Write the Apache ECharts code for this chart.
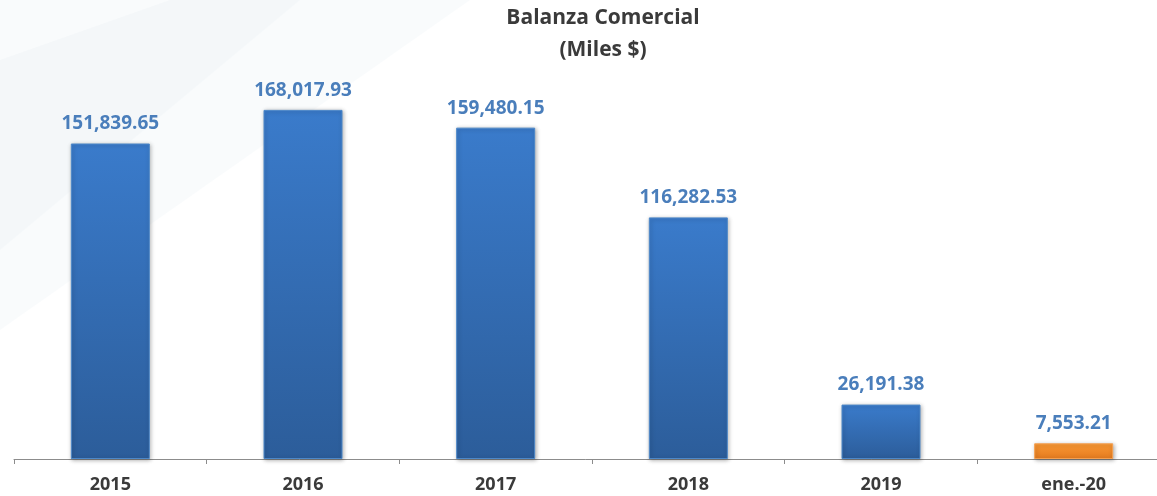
<!DOCTYPE html>
<html>
<head>
<meta charset="utf-8">
<script src="https://cdn.jsdelivr.net/npm/echarts@6/dist/echarts.min.js"></script>
<style>
	html,body{margin:0;padding:0;background:#fff;}
	#chart{width:1157px;height:496px;}
</style>
</head>
<body>
<div id="chart"></div>
<script>
var categories = ['2015', '2016', '2017', '2018', '2019', 'ene.-20'];
var values = [151839.65, 168017.93, 159480.15, 116282.53, 26191.38, 7553.21];
var orangeIndex = 5 ;

var blueBar = new echarts.graphic.LinearGradient(0, 0, 0, 1, [
	{offset: 0, color: '#3a7bcb'},
	{offset: 1, color: '#2c5d9a'}
]);
var orangeBar = new echarts.graphic.LinearGradient(0, 0, 0, 1, [
	{offset: 0, color: '#f99834'},
	{offset: 1, color: '#e57b1f'}
]);

function fmt(v){
	return v.toLocaleString('en-US', {minimumFractionDigits: 2, maximumFractionDigits: 2});
}

var barData = values.map(function(v, i){
	return {
		value: v,
		itemStyle: {
			color: i === orangeIndex ? orangeBar : blueBar,
			borderColor: i === orangeIndex ? '#f6a050' : '#4d88c9'
		}
	};
});

var chart = echarts.init(document.getElementById('chart'), null, {renderer: 'canvas'});
chart.setOption({
	animation: false,
	backgroundColor: '#ffffff',
	graphic: [
		{type: 'polygon', z: -10, silent: true,
			shape: {points: [[0,0],[470,0],[0,330]]},
			style: {fill: 'rgba(232,240,244,0.25)'}},
		{type: 'polygon', z: -10, silent: true,
			shape: {points: [[0,60],[170,0],[300,0],[0,250]]},
			style: {fill: 'rgba(225,236,242,0.2)'}},
		{type: 'text', x: 603, y: 18,
			style: {text: 'Balanza Comercial', textAlign: 'center', textVerticalAlign: 'middle',
				font: 'bold 21px "Open Sans"', fill: '#3a3a3a'}},
		{type: 'text', x: 603, y: 50,
			style: {text: '(Miles $)', textAlign: 'center', textVerticalAlign: 'middle',
				font: 'bold 21px "Open Sans"', fill: '#3a3a3a'}}
	],
	grid: {left: 14, top: 85, bottom: 37, right: -13, outerBoundsMode: 'none', containLabel: false},
	xAxis: {
		type: 'category',
		data: categories,
		axisLine: {lineStyle: {color: '#8c8c8c', width: 1}},
		axisTick: {show: true, length: 5, lineStyle: {color: '#8c8c8c'}},
		axisLabel: {
			margin: 17,
			color: '#3a3a3a',
			fontFamily: 'Open Sans',
			fontWeight: 'bold',
			fontSize: 18
		}
	},
	yAxis: {
		type: 'value',
		min: 0,
		max: 180000,
		show: false,
		splitLine: {show: false}
	},
	series: [{
		type: 'bar',
		data: barData,
		barWidth: 79,
		itemStyle: {
			borderWidth: 1,
			shadowBlur: 4,
			shadowColor: 'rgba(0,0,0,0.3)',
			shadowOffsetX: 1,
			shadowOffsetY: 1
		},
		label: {
			show: true,
			position: 'top',
			distance: 10,
			color: '#4a7ebb',
			fontFamily: 'Open Sans',
			fontWeight: 'bold',
			fontSize: 19,
			formatter: function(p){ return fmt(p.value); }
		}
	}]
});
</script>
</body>
</html>
